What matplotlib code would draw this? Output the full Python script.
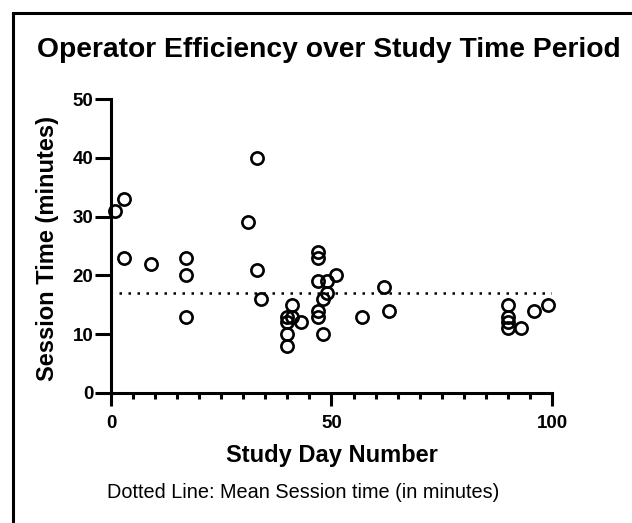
import matplotlib.pyplot as plt
from matplotlib.patches import Rectangle
from matplotlib.ticker import MultipleLocator

plt.rcParams['font.family'] = ['Liberation Sans', 'DejaVu Sans']

# study day vs session time (minutes)
study_day = [1, 3, 3, 9, 17, 17, 17, 31, 33, 33, 34,
             40, 41, 40, 41, 40, 40, 43,
             47, 47, 47, 49, 51, 49, 48, 47, 47, 48,
             57, 62, 63, 90, 90, 90, 90, 93, 96, 99]
session_time = [31, 33, 23, 22, 23, 20, 13, 29, 40, 21, 16,
                13, 13, 12, 15, 10, 8, 12,
                24, 23, 19, 19, 20, 17, 16, 14, 13, 10,
                13, 18, 14, 15, 13, 12, 11, 11, 14, 15]
mean_time = 17
mean_span = [1.8, 100]

fig = plt.figure(figsize=(6.32, 5.23), dpi=100)
ax = fig.add_axes([0.1756, 0.2486, 0.6978, 0.5621])

# frame around the whole panel (runs off the right and bottom edges)
fig.patches.append(Rectangle((0.020, -0.05), 1.2, 1.025, transform=fig.transFigure,
                             fill=False, edgecolor='black', linewidth=2.2))

ax.plot(study_day, session_time, linestyle='none', marker='o', markersize=8.8,
        markerfacecolor='none', markeredgecolor='black', markeredgewidth=1.9,
        clip_on=False, zorder=3)
ax.plot(mean_span, [mean_time, mean_time], color='black', linewidth=1.8,
        linestyle=(0, (1, 2.6)), zorder=2)

ax.set_xlim(0, 100)
ax.set_ylim(0, 50)
ax.xaxis.set_major_locator(MultipleLocator(50))
ax.xaxis.set_minor_locator(MultipleLocator(5))
ax.yaxis.set_major_locator(MultipleLocator(10))

for side in ['top', 'right']:
    ax.spines[side].set_visible(False)
for side in ['left', 'bottom']:
    ax.spines[side].set_linewidth(2.2)

ax.tick_params(axis='y', which='major', length=11.5, width=2.2, labelsize=13.5, pad=1)
ax.tick_params(axis='x', which='major', length=9, width=2.2, labelsize=13.5, pad=7)
ax.tick_params(axis='x', which='minor', length=4.5, width=2.2)
for lab in ax.get_xticklabels() + ax.get_yticklabels():
    lab.set_fontweight('bold')

ax.set_xlabel('Study Day Number', fontsize=17, fontweight='bold', va='center')
ax.xaxis.set_label_coords(0.5, -0.211)
ax.set_ylabel('Session Time (minutes)', fontsize=17, fontweight='bold', va='center')
ax.yaxis.set_label_coords(-0.143, 0.491)

fig.text(0.521, 0.904, 'Operator Efficiency over Study Time Period', ha='center', va='center',
         fontsize=20.3, fontweight='bold')
fig.text(0.169, 0.059, 'Dotted Line: Mean Session time (in minutes)', ha='left', va='center',
         fontsize=14.3)

fig.savefig('out.png', dpi=100)
